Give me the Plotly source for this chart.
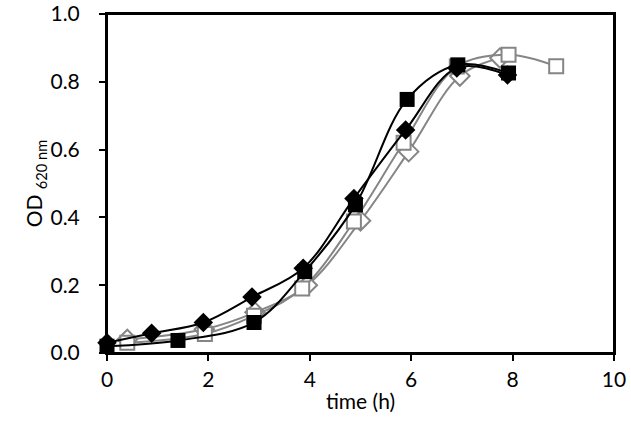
import plotly.graph_objects as go

# growth curves, OD at 620 nm vs time (h)
time_sq_black = [0, 1.4, 2.9, 3.9, 4.9, 5.92, 6.92, 7.92]
od_sq_black = [0.02, 0.037, 0.09, 0.24, 0.437, 0.748, 0.85, 0.826]

time_dia_black = [0, 0.88, 1.9, 2.86, 3.87, 4.87, 5.89, 6.9, 7.9]
od_dia_black = [0.03, 0.058, 0.09, 0.165, 0.25, 0.456, 0.658, 0.841, 0.82]

time_dia_open = [0.4, 1.92, 2.92, 3.95, 5.0, 5.95, 6.96, 7.75]
od_dia_open = [0.04, 0.07, 0.12, 0.2, 0.39, 0.594, 0.817, 0.87]

time_sq_open = [0.4, 1.93, 2.9, 3.85, 4.87, 5.85, 6.9, 7.92, 8.86]
od_sq_open = [0.03, 0.056, 0.11, 0.19, 0.388, 0.62, 0.845, 0.88, 0.846]

grey = "#858585"

fig = go.Figure()

fig.add_trace(go.Scatter(
    x=time_dia_open, y=od_dia_open, mode="lines+markers",
    line=dict(color=grey, width=2, shape="spline", smoothing=1),
    marker=dict(symbol="diamond", size=15, color="white",
                line=dict(color=grey, width=2)),
    cliponaxis=False, name="C",
))
fig.add_trace(go.Scatter(
    x=time_sq_open, y=od_sq_open, mode="lines+markers",
    line=dict(color=grey, width=2, shape="spline", smoothing=1),
    marker=dict(symbol="square", size=14, color="white",
                line=dict(color=grey, width=2)),
    cliponaxis=False, name="D",
))
fig.add_trace(go.Scatter(
    x=time_sq_black, y=od_sq_black, mode="lines+markers",
    line=dict(color="black", width=2, shape="spline", smoothing=1),
    marker=dict(symbol="square", size=15, color="black"),
    cliponaxis=False, name="A",
))
fig.add_trace(go.Scatter(
    x=time_dia_black, y=od_dia_black, mode="lines+markers",
    line=dict(color="black", width=2, shape="spline", smoothing=1),
    marker=dict(symbol="diamond", size=15, color="black"),
    cliponaxis=False, name="B",
))

axis_font = dict(family="Lato, Open Sans, sans-serif", size=21, color="black")

fig.update_layout(
    width=631, height=424,
    margin=dict(l=107, r=17, t=14, b=71),
    paper_bgcolor="white", plot_bgcolor="white",
    showlegend=False,
    font=axis_font,
)
# plot-area frame (top/right border didn't show reliably from mirror alone)
fig.add_shape(type="rect", xref="paper", yref="paper", x0=0, x1=1, y0=0, y1=1,
              line=dict(color="black", width=2), layer="below")

fig.update_xaxes(
    range=[0, 10], dtick=2, tick0=0, automargin=False,
    showline=True, linecolor="black", linewidth=2, mirror=True,
    ticks="outside", ticklen=6, tickwidth=2, tickcolor="black",
    showgrid=False, zeroline=False, ticklabelstandoff=1,
    ticklabeloverflow="allow",
    tickfont=axis_font,
    title=dict(text="time (h)", font=axis_font, standoff=4),
)
fig.update_yaxes(
    range=[0, 1], dtick=0.2, tick0=0, tickformat=".1f", automargin=False,
    showline=True, linecolor="black", linewidth=2, mirror=True,
    ticks="outside", ticklen=6, tickwidth=2, tickcolor="black",
    showgrid=False, zeroline=False, ticklabelstandoff=15,
    ticklabeloverflow="allow",
    tickfont=axis_font,
    title=dict(text="OD <sub>620 nm</sub>", font=axis_font, standoff=2),
)

# page body has an 8px default margin, drop it so the figure fills the window
fig.write_html("out.html", config={"displayModeBar": False},
               post_script="document.body.style.margin='0';")
